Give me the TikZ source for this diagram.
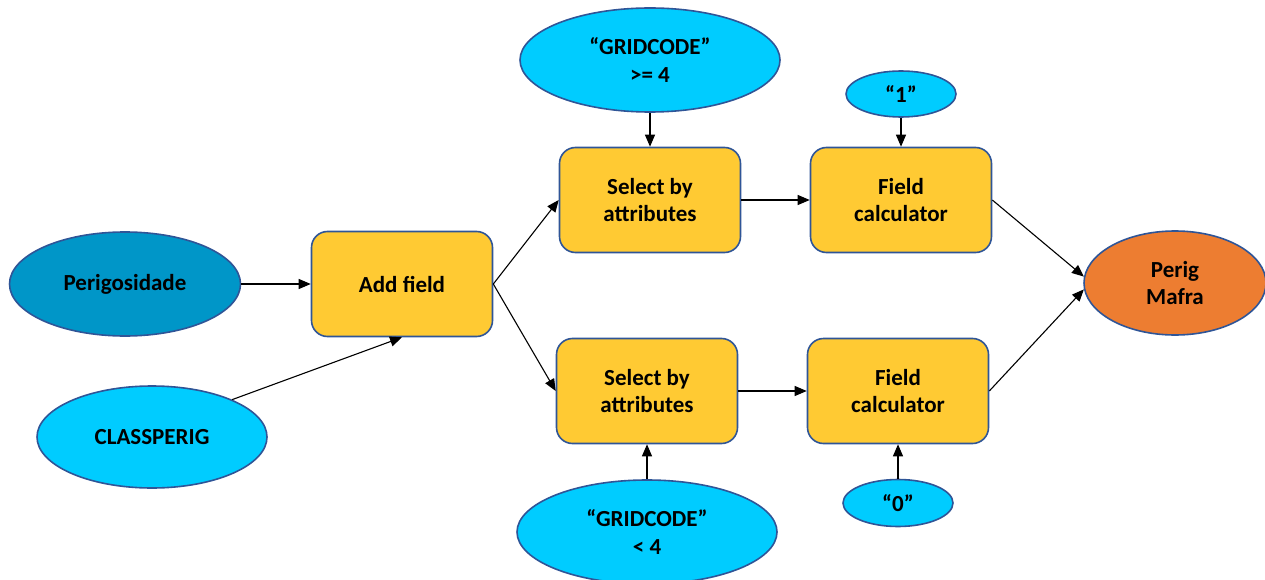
\documentclass[tikz,border=0pt]{standalone}
\usepackage{fontspec}
\setmainfont{Carlito}
\usetikzlibrary{arrows.meta,shapes.geometric}
\definecolor{cyanfill}{HTML}{00CCFF}
\definecolor{deepblue}{HTML}{0096C8}
\definecolor{goldfill}{HTML}{FFCA33}
\definecolor{orangefill}{HTML}{ED7D31}
\definecolor{edgeblue}{HTML}{2F5597}
\begin{document}
\begin{tikzpicture}[x=1pt,y=-1pt,
  label text/.style={font=\bfseries\fontsize{23}{27.5}\selectfont, align=center, text=black},
  datum/.style={ellipse, draw=edgeblue, line width=1.6pt, inner sep=0pt, label text},
  tool/.style={rectangle, rounded corners=16pt, draw=edgeblue, line width=1.6pt,
    fill=goldfill, minimum width=181pt, minimum height=105pt, inner sep=0pt, label text},
  flow/.style={line width=1.1pt, -{Triangle[length=12pt,width=10pt]}}]
\useasboundingbox (0,0) rectangle (1265,580);

% inputs
\node[datum, fill=deepblue, minimum width=231pt, minimum height=104pt] (per) at (125,284) {Perigosidade};
\node[datum, fill=cyanfill, minimum width=230pt, minimum height=102pt] (cls) at (152,437) {CLASSPERIG};

% tools
\node[tool] (add) at (402,284) {Add field};
\node[tool] (sel1) at (650,200) {Select by\\attributes};
\node[tool] (sel2) at (647,391) {Select by\\attributes};
\node[tool] (fc1) at (901,200) {Field\\calculator};
\node[tool] (fc2) at (898,391) {Field\\calculator};

% parameters
\node[datum, fill=cyanfill, minimum width=260pt, minimum height=104pt] (g1) at (650,60) {“GRIDCODE”\\>= 4};
\node[datum, fill=cyanfill, minimum width=260pt, minimum height=104pt] (g2) at (647,532) {“GRIDCODE”\\< 4};
\node[datum, fill=cyanfill, minimum width=110pt, minimum height=46pt] (one) at (901,94) {“1”};
\node[datum, fill=cyanfill, minimum width=110pt, minimum height=47pt] (zero) at (898,503) {“0”};

% output
\node[datum, fill=orangefill, minimum width=182pt, minimum height=104pt] (out) at (1175,283) {Perig\\Mafra};

% connectors
\draw[flow] (per) -- (add);
\draw[flow] (cls.25) -- (add.south);
\draw[flow] (add.east) -- (sel1.west);
\draw[flow] (add.east) -- (sel2.west);
\draw[flow] (g1) -- (sel1);
\draw[flow] (g2) -- (sel2);
\draw[flow] (sel1) -- (fc1);
\draw[flow] (sel2) -- (fc2);
\draw[flow] (one) -- (fc1);
\draw[flow] (zero) -- (fc2);
\draw[flow] (fc1.east) -- (out.176);
\draw[flow] (fc2.east) -- (out.184);
\end{tikzpicture}
\end{document}
